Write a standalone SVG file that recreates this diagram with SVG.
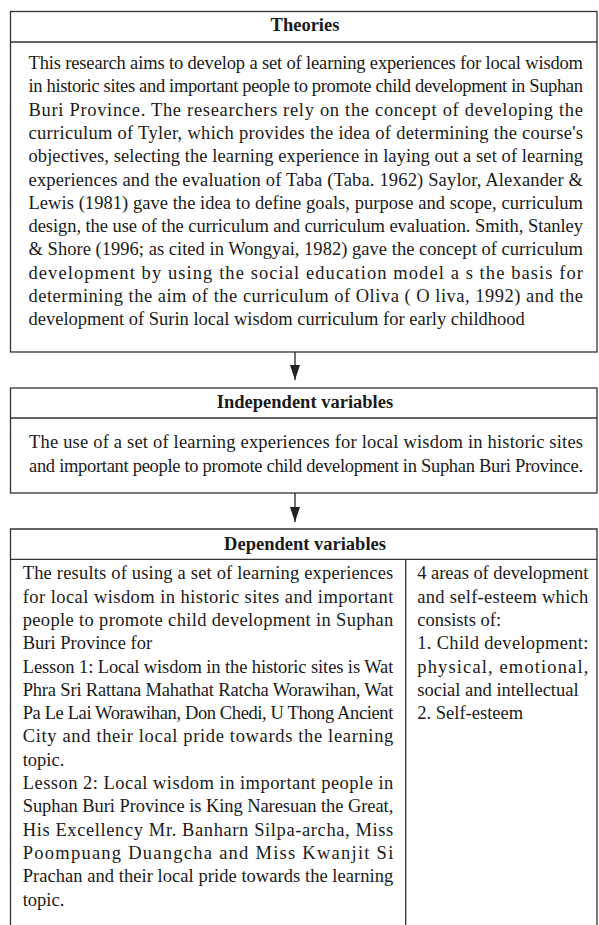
<svg xmlns="http://www.w3.org/2000/svg" width="599" height="925" viewBox="0 0 599 925">
<style>
.box{fill:none;stroke:#333;stroke-width:1.3}
.hd{font-family:"Liberation Serif","Times New Roman",serif;font-size:18.5px;font-weight:bold;fill:#1a1a1a;text-anchor:middle}
.tx{font-family:"Liberation Serif","Times New Roman",serif;font-size:18.5px;fill:#1a1a1a}
.cn{stroke:#222;stroke-width:1.3;fill:none}
</style>
<defs>
<marker id="ah" markerUnits="userSpaceOnUse" viewBox="0 0 15 10" refX="15" refY="5" markerWidth="15" markerHeight="10" orient="auto">
<path d="M0,0 L15,5 L0,10 z" fill="#222"/>
</marker>
</defs>
<rect width="599" height="925" fill="#fff"/>
<g id="theories">
<rect class="box" x="10.5" y="11.5" width="586.5" height="340.5"/>
<line class="box" x1="10.5" y1="42" x2="597" y2="42"/>
<text class="hd" x="305" y="31">Theories</text>
<text class="tx" x="28.5" y="69" textLength="554.5" lengthAdjust="spacing">This research aims to develop a set of learning experiences for local wisdom</text>
<text class="tx" x="28.5" y="92.3" textLength="554.5" lengthAdjust="spacing">in historic sites and important people to promote child development in Suphan</text>
<text class="tx" x="28.5" y="115.6" textLength="554.5" lengthAdjust="spacing">Buri Province. The researchers rely on the concept of developing the</text>
<text class="tx" x="28.5" y="138.9" textLength="554.5" lengthAdjust="spacing">curriculum of Tyler, which provides the idea of determining the course's</text>
<text class="tx" x="28.5" y="162.2" textLength="554.5" lengthAdjust="spacing">objectives, selecting the learning experience in laying out a set of learning</text>
<text class="tx" x="28.5" y="185.5" textLength="554.5" lengthAdjust="spacing">experiences and the evaluation of Taba (Taba. 1962) Saylor, Alexander &amp;</text>
<text class="tx" x="28.5" y="208.8" textLength="554.5" lengthAdjust="spacing">Lewis (1981) gave the idea to define goals, purpose and scope, curriculum</text>
<text class="tx" x="28.5" y="232.1" textLength="554.5" lengthAdjust="spacing">design, the use of the curriculum and curriculum evaluation. Smith, Stanley</text>
<text class="tx" x="28.5" y="255.4" textLength="554.5" lengthAdjust="spacing">&amp; Shore (1996; as cited in Wongyai, 1982) gave the concept of curriculum</text>
<text class="tx" x="28.5" y="278.7" textLength="554.5" lengthAdjust="spacing">development by using the social education model a s the basis for</text>
<text class="tx" x="28.5" y="302" textLength="554.5" lengthAdjust="spacing">determining the aim of the curriculum of Oliva ( O liva, 1992) and the</text>
<text class="tx" x="28.5" y="325.3">development of Surin local wisdom curriculum for early childhood</text>
</g>
<g id="independent">
<rect class="box" x="10.5" y="388" width="586.5" height="105"/>
<line class="box" x1="10.5" y1="418" x2="597" y2="418"/>
<text class="hd" x="305" y="408">Independent variables</text>
<text class="tx" x="29" y="448.3" textLength="554" lengthAdjust="spacing">The use of a set of learning experiences for local wisdom in historic sites</text>
<text class="tx" x="29" y="471.6" textLength="554" lengthAdjust="spacing">and important people to promote child development in Suphan Buri Province.</text>
</g>
<g id="dependent">
<path class="box" d="M10.5,925 V529 H597 V925"/>
<line class="box" x1="10.5" y1="559.3" x2="597" y2="559.3"/>
<line class="box" x1="405.7" y1="559.3" x2="405.7" y2="925"/>
<text class="hd" x="305" y="550">Dependent variables</text>
<text class="tx" x="22.7" y="579.3" textLength="370.6" lengthAdjust="spacing">The results of using a set of learning experiences</text>
<text class="tx" x="22.7" y="602.6" textLength="370.6" lengthAdjust="spacing">for local wisdom in historic sites and important</text>
<text class="tx" x="22.7" y="625.9" textLength="370.6" lengthAdjust="spacing">people to promote child development in Suphan</text>
<text class="tx" x="22.7" y="649.2">Buri Province for</text>
<text class="tx" x="22.7" y="672.5" textLength="370.6" lengthAdjust="spacing">Lesson 1: Local wisdom in the historic sites is Wat</text>
<text class="tx" x="22.7" y="695.8" textLength="370.6" lengthAdjust="spacing">Phra Sri Rattana Mahathat Ratcha Worawihan, Wat</text>
<text class="tx" x="22.7" y="719.1" textLength="370.6" lengthAdjust="spacing">Pa Le Lai Worawihan, Don Chedi, U Thong Ancient</text>
<text class="tx" x="22.7" y="742.4" textLength="370.6" lengthAdjust="spacing">City and their local pride towards the learning</text>
<text class="tx" x="22.7" y="765.7">topic.</text>
<text class="tx" x="22.7" y="789" textLength="370.6" lengthAdjust="spacing">Lesson 2: Local wisdom in important people in</text>
<text class="tx" x="22.7" y="812.3" textLength="370.6" lengthAdjust="spacing">Suphan Buri Province is King Naresuan the Great,</text>
<text class="tx" x="22.7" y="835.6" textLength="370.6" lengthAdjust="spacing">His Excellency Mr. Banharn Silpa-archa, Miss</text>
<text class="tx" x="22.7" y="858.9" textLength="370.6" lengthAdjust="spacing">Poompuang Duangcha and Miss Kwanjit Si</text>
<text class="tx" x="22.7" y="882.2" textLength="370.6" lengthAdjust="spacing">Prachan and their local pride towards the learning</text>
<text class="tx" x="22.7" y="905.5">topic.</text>
<text class="tx" x="417.3" y="579.3" textLength="171" lengthAdjust="spacing">4 areas of development</text>
<text class="tx" x="417.3" y="602.6" textLength="171" lengthAdjust="spacing">and self-esteem which</text>
<text class="tx" x="417.3" y="625.9">consists of:</text>
<text class="tx" x="417.3" y="649.2" textLength="171" lengthAdjust="spacing">1. Child development:</text>
<text class="tx" x="417.3" y="672.5" textLength="171" lengthAdjust="spacing">physical, emotional,</text>
<text class="tx" x="417.3" y="695.8">social and intellectual</text>
<text class="tx" x="417.3" y="719.1">2. Self-esteem</text>
</g>
<g id="connectors">
<line class="cn" x1="295" y1="352" x2="295" y2="380" marker-end="url(#ah)"/>
<line class="cn" x1="295" y1="493" x2="295" y2="522" marker-end="url(#ah)"/>
</g>
</svg>
